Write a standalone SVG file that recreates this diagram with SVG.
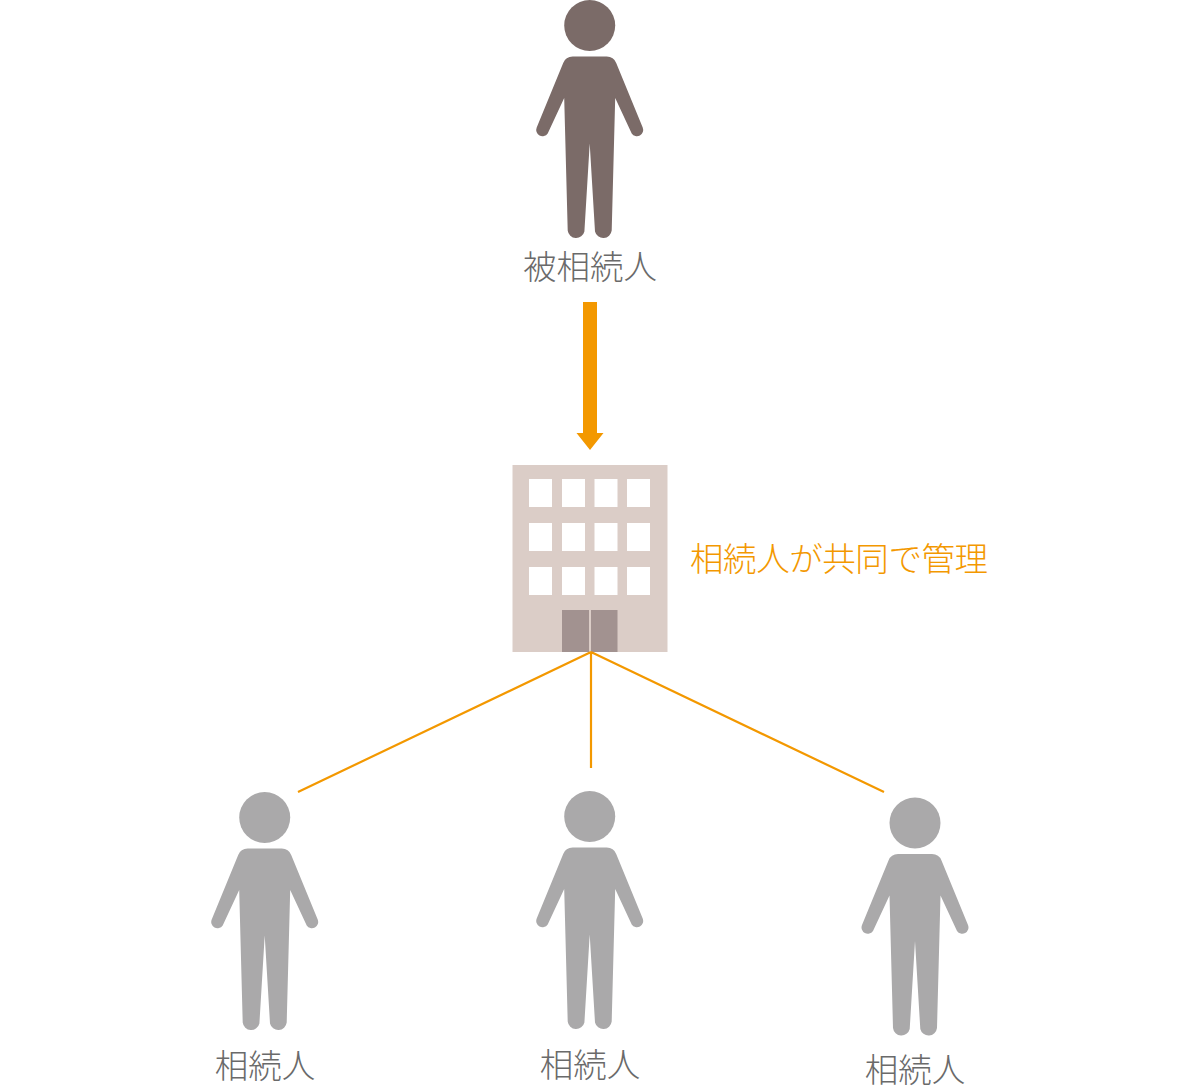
<svg xmlns="http://www.w3.org/2000/svg" width="1200" height="1087" viewBox="0 0 1200 1087">
<style>
text{font-family:"Noto Sans CJK JP","Noto Sans CJK SC",sans-serif;font-size:33.5px;font-weight:300;text-anchor:middle;fill:#6a6a6a}
.o{fill:#f39800;text-anchor:start}
.w{fill:#fff}
.d{fill:#a29290}
.c{stroke:#f39800;stroke-width:2.2;fill:none}
.p1{fill:#7b6b68}
.p2{fill:#aaa9aa}
</style>
<defs>
<g id="person">
<circle cx="0" cy="0" r="25.5"/>
<path d="M-17,31H17Q24,31 26.5,37.5L53,102A6.3,6.3 0 0 1 42,108L25.5,72.5L22,205A8.5,8.5 0 0 1 5.3,206L0,118L-5.3,206A8.5,8.5 0 0 1 -22,205L-25.5,72.5L-42,108A6.3,6.3 0 0 1 -53,102L-26.5,37.5Q-24,31 -17,31Z"/>
</g>
</defs>
<g id="decedent">
<use href="#person" class="p1" x="589.7" y="25.5"/>
<text x="590" y="279">被相続人</text>
</g>
<g id="building">
<rect x="512.5" y="465" width="155" height="187" fill="#dbcdc7"/>
<rect class="w" x="529" y="479" width="23" height="28"/><rect class="w" x="562" y="479" width="23" height="28"/><rect class="w" x="594.5" y="479" width="23" height="28"/><rect class="w" x="627" y="479" width="23" height="28"/>
<rect class="w" x="529" y="523" width="23" height="28"/><rect class="w" x="562" y="523" width="23" height="28"/><rect class="w" x="594.5" y="523" width="23" height="28"/><rect class="w" x="627" y="523" width="23" height="28"/>
<rect class="w" x="529" y="567" width="23" height="28"/><rect class="w" x="562" y="567" width="23" height="28"/><rect class="w" x="594.5" y="567" width="23" height="28"/><rect class="w" x="627" y="567" width="23" height="28"/>
<rect class="d" x="562" y="610" width="27" height="42"/><rect class="d" x="591" y="610" width="26.5" height="42"/>
<text class="o" x="690" y="571" textLength="298" lengthAdjust="spacing">相続人が共同で管理</text>
</g>
<g id="connectors">
<path fill="#f39800" d="M583,302H597V433H603.5L590,450L576.5,433H583Z"/>
<path class="c" d="M591,652L298,792M591,652V768M591,652L884,792"/>
</g>
<g id="heir1">
<use href="#person" class="p2" x="264.7" y="817.5"/>
<text x="265" y="1078">相続人</text>
</g>
<g id="heir2">
<use href="#person" class="p2" x="589.7" y="816.5"/>
<text x="590" y="1077">相続人</text>
</g>
<g id="heir3">
<use href="#person" class="p2" x="915" y="823"/>
<text x="915" y="1082">相続人</text>
</g>
</svg>
